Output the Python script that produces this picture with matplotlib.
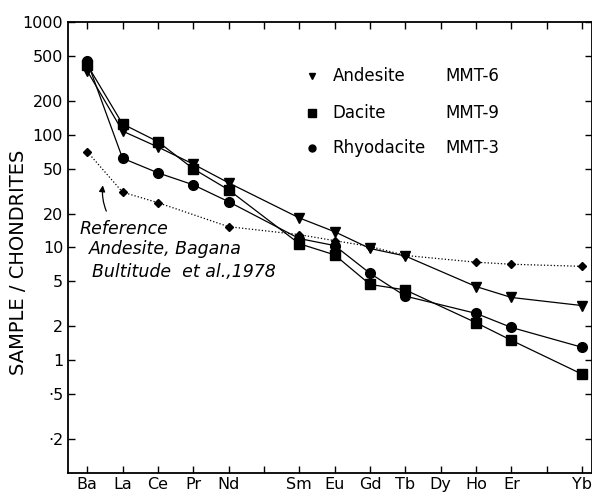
import matplotlib.pyplot as plt
from matplotlib.ticker import NullLocator

# element positions along the x axis (blanks at 5 and 13)
elements = ['Ba', 'La', 'Ce', 'Pr', 'Nd', '', 'Sm', 'Eu', 'Gd', 'Tb', 'Dy', 'Ho', 'Er', '', 'Yb']

andesite_x = ['Ba', 'La', 'Ce', 'Pr', 'Nd', 'Sm', 'Eu', 'Gd', 'Tb', 'Ho', 'Er', 'Yb']
andesite_y = [370, 108, 78, 55, 37.5, 18.3, 13.8, 9.8, 8.4, 4.5, 3.6, 3.05]

dacite_x = ['Ba', 'La', 'Ce', 'Pr', 'Nd', 'Sm', 'Eu', 'Gd', 'Tb', 'Ho', 'Er', 'Yb']
dacite_y = [420, 125, 87, 50, 32.5, 10.8, 8.6, 4.7, 4.2, 2.15, 1.5, 0.75]

rhyo_x = ['Ba', 'La', 'Ce', 'Pr', 'Nd', 'Sm', 'Eu', 'Gd', 'Tb', 'Ho', 'Er', 'Yb']
rhyo_y = [450, 62, 46, 36, 25.5, 12, 10.4, 5.9, 3.7, 2.6, 1.95, 1.3]

ref_x = ['Ba', 'La', 'Ce', 'Nd', 'Sm', 'Eu', 'Gd', 'Tb', 'Ho', 'Er', 'Yb']
ref_y = [71, 31, 25, 15.3, 13, 11.5, 10.2, 8.5, 7.4, 7.1, 6.8]

yticks = [1000, 500, 200, 100, 50, 20, 10, 5, 2, 1, 0.5, 0.2]
ytick_labels = ['1000', '500', '200', '100', '50', '20', '10', '5', '2', '1', '·5', '·2']


def pos(names):
    return [elements.index(n) for n in names]


fig = plt.figure(figsize=(5.92, 4.93), dpi=100)
ax = fig.add_axes([0.115, 0.041, 0.885, 0.914])

ax.plot(pos(ref_x), ref_y, color='black', lw=0.9, ls=':', marker='D', ms=4.5)
ax.plot(pos(andesite_x), andesite_y, color='black', lw=0.9, marker='v', ms=6.5)
ax.plot(pos(dacite_x), dacite_y, color='black', lw=0.9, marker='s', ms=7.5)
ax.plot(pos(rhyo_x), rhyo_y, color='black', lw=0.9, marker='o', ms=7)

ax.set_yscale('log')
ax.set_ylim(0.1, 1000)
ax.set_xlim(-0.54, 14.28)
ax.set_yticks(yticks)
ax.set_yticklabels(ytick_labels)
ax.yaxis.set_minor_locator(NullLocator())
ax.set_xticks(range(len(elements)))
ax.set_xticklabels(elements)

ax.tick_params(axis='both', direction='in', length=5, width=1, labelsize=11.5,
               top=True, right=True)
ax.tick_params(axis='x', pad=3)
for s in ax.spines.values():
    s.set_linewidth(1.3)

ax.set_ylabel('SAMPLE / CHONDRITES', fontsize=14)
ax.yaxis.set_label_coords(-0.076, 0.466)

# legend drawn as markers + two text columns
legend_rows = [('v', 'Andesite', 'MMT-6', 5), ('s', 'Dacite', 'MMT-9', 5.5), ('o', 'Rhyodacite', 'MMT-3', 5)]
row_y = [0.88, 0.798, 0.72]
for (m, name, code, ms), yy in zip(legend_rows, row_y):
    ax.plot([0.466], [yy], marker=m, color='black', ms=ms, transform=ax.transAxes)
    ax.text(0.505, yy, name, transform=ax.transAxes, fontsize=12, va='center')
    ax.text(0.72, yy, code, transform=ax.transAxes, fontsize=12, va='center')

ax.text(0.022, 0.542, 'Reference', transform=ax.transAxes, fontsize=12.5,
        style='italic', va='center')
ax.text(0.04, 0.497, 'Andesite, Bagana', transform=ax.transAxes, fontsize=12.5,
        style='italic', va='center')
ax.text(0.045, 0.445, 'Bultitude  et al.,1978', transform=ax.transAxes, fontsize=12.5,
        style='italic', va='center')
ax.annotate('', xy=(0.067, 0.644), xytext=(0.075, 0.575), xycoords='axes fraction',
            arrowprops=dict(arrowstyle='-|>', color='black', lw=0.9,
                            connectionstyle='arc3,rad=-0.15', mutation_scale=9))

fig.savefig('out.png', dpi=100)
